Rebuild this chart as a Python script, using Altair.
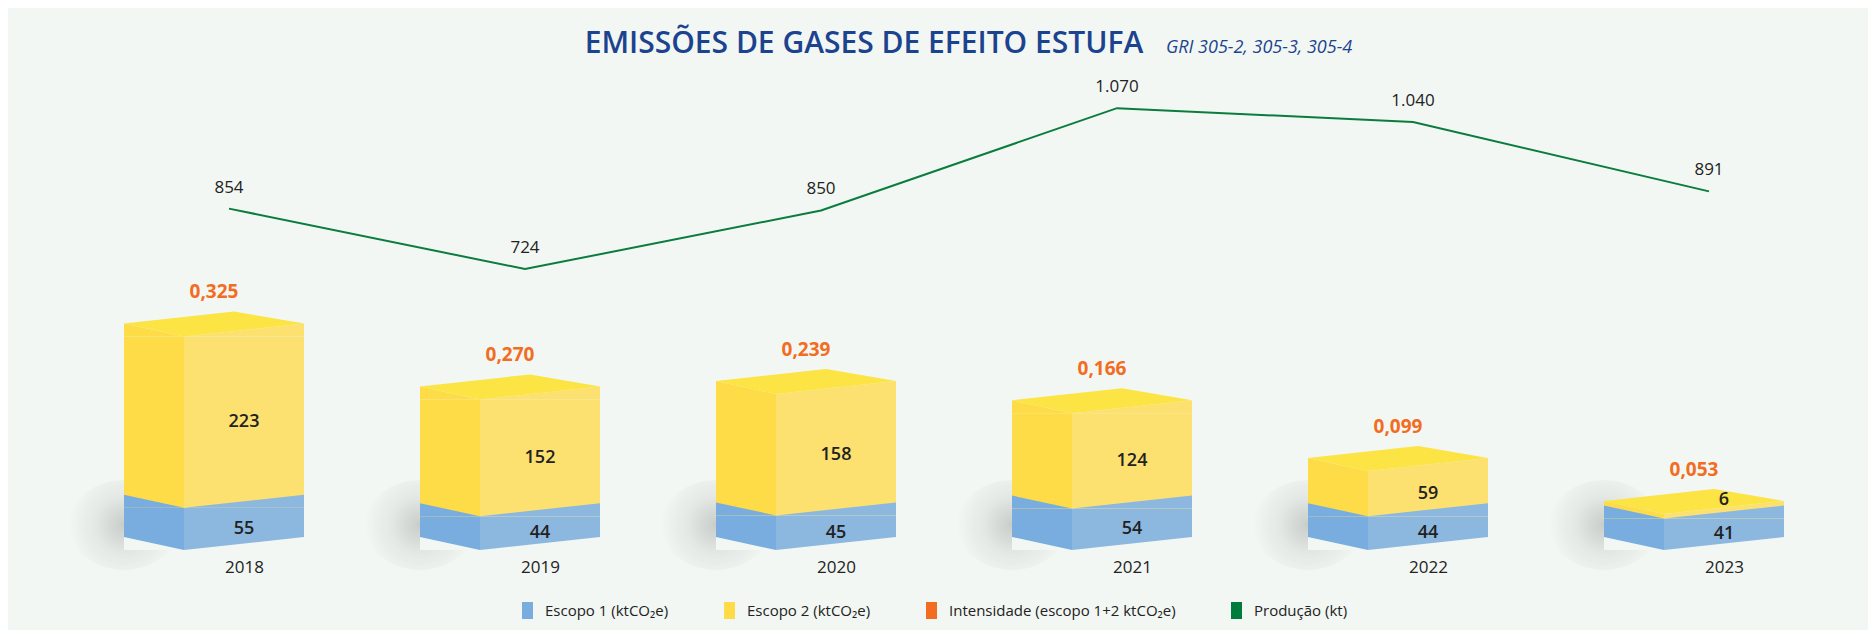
import altair as alt
import pandas as pd

# ---------------- data ----------------
anos = ["2018", "2019", "2020", "2021", "2022", "2023"]
escopo1 = [55, 44, 45, 54, 44, 41]
escopo2 = [223, 152, 158, 124, 59, 6]
intensidade = [0.325, 0.270, 0.239, 0.166, 0.099, 0.053]
producao = [854, 724, 850, 1070, 1040, 891]

series = ["Escopo 1 (ktCO₂e)", "Escopo 2 (ktCO₂e)",
          "Intensidade (escopo 1+2 ktCO₂e)", "Produção (kt)"]
titulo = "EMISSÕES DE GASES DE EFEITO ESTUFA"
subtitulo = "GRI 305-2, 305-3, 305-4"

# ---------------- style ----------------
FONT = "Open Sans"
BG = "#F2F7F3"
TITLE_C = "#1B438F"
LEG_COLORS = ["#7AADDF", "#FEDC48", "#F26C22", "#007A3D"]
BLUE_L, BLUE_F = "#7AADDF", "#8CB8E0"
YEL_L, YEL_F, YEL_T = "#FEDC48", "#FCE170", "#FBE443"
ORANGE, GREEN, TXT = "#F26C22", "#0A7C3E", "#222222"

TRI_L = "M-105,-13L-45,0L-105,0Z"
TRI_R = "M-45,0L75,-13L75,0Z"
TRI_LR = TRI_L + " " + TRI_R
CAP = "M-105,-13L5,-25L75,-13L-45,0Z"
SHADOW = "M-160,-25A55,45 0 1,0 -50,-25A55,45 0 1,0 -160,-25Z"
LEG_SYM = "M-0.65,-1L0.65,-1L0.65,1L-0.65,1Z"

# ---------------- tables ----------------
total = [a + b for a, b in zip(escopo1, escopo2)]
df = pd.DataFrame({
    "ano": anos, "e1": escopo1, "e2": escopo2, "total": total,
    "int": intensidade, "prod": producao,
})
df["int_lbl"] = [f"{v:.3f}".replace(".", ",") for v in intensidade]
df["prod_lbl"] = [f"{v:,}".replace(",", ".") for v in producao]

seg = pd.DataFrame({
    "ano": anos + anos,
    "serie": [series[0]] * 6 + [series[1]] * 6,
    "ini": [0] * 6 + escopo1,
    "fim": escopo1 + total,
    "valor": escopo1 + escopo2,
})
seg["meio"] = (seg["ini"] + seg["fim"]) / 2
# keep the label of a very thin segment clear of the one below it
seg["pos_lbl"] = [m if s == series[0] else max(m, i + 24)
                  for m, s, i in zip(seg["meio"], seg["serie"], seg["ini"])]

# ---------------- encodings ----------------
X = alt.X("ano:N",
          scale=alt.Scale(type="point", domain=anos, range=[221, 1701], padding=0),
          axis=alt.Axis(title=None, domain=False, ticks=False, grid=False,
                        labelAngle=0, labelFont=FONT, labelFontSize=17,
                        labelColor=TXT, labelPadding=9, labelOffset=15))
BAR_SCALE = alt.Scale(domain=[0, 625])
LINE_SCALE = alt.Scale(domain=[120, 1152])


def yb(field):
    return alt.Y(field, type="quantitative", scale=BAR_SCALE, axis=None)


def shape_layer(path, color, field):
    return alt.Chart(df).mark_point(
        shape=path, size=4, filled=True, color=color, opacity=1, strokeWidth=0
    ).encode(x=X, y=yb(field))


shadow = alt.Chart(df).transform_calculate(base="0").mark_point(
    shape=SHADOW, size=4, filled=True, opacity=1, strokeWidth=0,
    fill=alt.RadialGradient(
        gradient="radial",
        stops=[alt.GradientStop(offset=0, color="rgba(70,70,70,0.24)"),
               alt.GradientStop(offset=0.5, color="rgba(70,70,70,0.09)"),
               alt.GradientStop(offset=1, color="rgba(70,70,70,0)")],
        x1=0.5, y1=0.5, r1=0, x2=0.5, y2=0.5, r2=0.5),
).encode(x=X, y=yb("base"))

left_faces = alt.Chart(seg).mark_bar(width=60, xOffset=-75, opacity=1).encode(
    x=X, y=yb("fim"), y2="ini:Q",
    color=alt.Color("serie:N",
                    scale=alt.Scale(domain=series, range=LEG_COLORS),
                    legend=alt.Legend(
                        title=None, orient="none", legendX=511, legendY=532,
                        direction="horizontal", symbolType=LEG_SYM,
                        symbolSize=289, symbolStrokeWidth=0, symbolOpacity=1,
                        labelFont=FONT, labelFontSize=15, labelColor=TXT,
                        labelOffset=9, columnPadding=52, labelLimit=400)),
)

front_faces = alt.Chart(seg).mark_bar(width=120, xOffset=15, opacity=1).encode(
    x=X, y=yb("fim"), y2="ini:Q",
    fill=alt.Fill("serie:N",
                  scale=alt.Scale(domain=series[:2], range=[BLUE_F, YEL_F]),
                  legend=None),
)

top_l = shape_layer(TRI_L, YEL_L, "total")
top_r = shape_layer(TRI_R, YEL_F, "total")
cap = shape_layer(CAP, YEL_T, "total")
mid_l = shape_layer(TRI_L, BLUE_L, "e1")
mid_r = shape_layer(TRI_R, BLUE_F, "e1")
bottom = alt.Chart(df).transform_calculate(base="0").mark_point(
    shape=TRI_LR, size=4, filled=True, color=BG, opacity=1, strokeWidth=0
).encode(x=X, y=yb("base"))

values = alt.Chart(seg).mark_text(
    dx=15, font=FONT, fontSize=18, fontWeight=600, color=TXT, baseline="middle"
).encode(x=X, y=yb("pos_lbl"), text="valor:Q")

intens = alt.Chart(df).mark_text(
    dx=-15, dy=-44, font=FONT, fontSize=19, fontWeight="bold",
    color=ORANGE, baseline="middle"
).encode(x=X, y=yb("total"), text="int_lbl:N")

line = alt.Chart(df).mark_line(color=GREEN, strokeWidth=2, opacity=1).encode(
    x=X, y=alt.Y("prod:Q", scale=LINE_SCALE, axis=None))

line_lbl = alt.Chart(df).mark_text(
    dy=-21, font=FONT, fontSize=17, fontWeight=500, color=TXT, baseline="middle"
).encode(x=X, y=alt.Y("prod:Q", scale=LINE_SCALE, axis=None), text="prod_lbl:N")

sub = alt.Chart(pd.DataFrame({"t": [subtitulo]})).mark_text(
    align="left", baseline="alphabetic", font=FONT, fontSize=18,
    fontStyle="italic", color=TITLE_C
).encode(x=alt.value(1158), y=alt.value(-17), text="t:N")

chart = alt.layer(
    shadow, left_faces, front_faces, top_l, top_r, cap, mid_l, mid_r, bottom,
    values, intens, line, line_lbl, sub
).resolve_scale(y="independent").properties(
    width=1860, height=480,
    autosize=alt.AutoSizeParams(type="none"),
    padding={"left": 0, "top": 62, "right": 0, "bottom": 80},
    title=alt.TitleParams(text=titulo, font=FONT, fontSize=30, fontWeight=600,
                          color=TITLE_C, anchor="middle", frame="group",
                          offset=-20, dx=-74),
).configure(background=BG, font=FONT).configure_view(stroke=None)

chart.save("out.html", embed_options={"renderer": "svg", "actions": False})
